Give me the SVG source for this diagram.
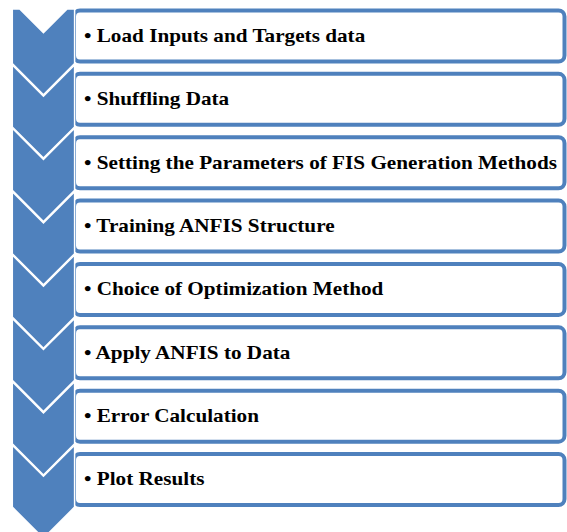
<svg xmlns="http://www.w3.org/2000/svg" width="567" height="532" viewBox="0 0 567 532">
<style>
.box{fill:#ffffff;stroke:#4F81BD;stroke-width:4}
.chev{fill:#4F81BD;stroke:#ffffff;stroke-width:1.5;stroke-linejoin:miter}
.lbl{font-family:"Liberation Serif","Times New Roman",serif;font-weight:bold;font-size:18px;fill:#000000}
</style>
<rect width="567" height="532" fill="#ffffff"/>
<g id="connectors"/>
<g id="node1">
<rect class="box" x="74" y="10.5" width="490.5" height="51" rx="6"/>
<polygon class="chev" points="12.3,9 19.75,9 43.45,32.75 67.15,9 74.6,9 74.6,63.6 43.45,94.75 12.3,63.6"/>
<text class="lbl" transform="translate(84 41.9) scale(1.178 1)">• Load Inputs and Targets data</text>
</g>
<g id="node2">
<rect class="box" x="74" y="73.86" width="490.5" height="51" rx="6"/>
<polygon class="chev" points="12.3,64.96 43.45,96.11 74.6,64.96 74.6,126.96 43.45,158.11 12.3,126.96"/>
<text class="lbl" transform="translate(84 105.26) scale(1.178 1)">• Shuffling Data</text>
</g>
<g id="node3">
<rect class="box" x="74" y="137.22" width="490.5" height="51" rx="6"/>
<polygon class="chev" points="12.3,128.32 43.45,159.47 74.6,128.32 74.6,190.32 43.45,221.47 12.3,190.32"/>
<text class="lbl" transform="translate(84 168.62) scale(1.178 1)">• Setting the Parameters of FIS Generation Methods</text>
</g>
<g id="node4">
<rect class="box" x="74" y="200.58" width="490.5" height="51" rx="6"/>
<polygon class="chev" points="12.3,191.68 43.45,222.83 74.6,191.68 74.6,253.68 43.45,284.83 12.3,253.68"/>
<text class="lbl" transform="translate(84 231.98) scale(1.178 1)">• Training ANFIS Structure</text>
</g>
<g id="node5">
<rect class="box" x="74" y="263.94" width="490.5" height="51" rx="6"/>
<polygon class="chev" points="12.3,255.04 43.45,286.19 74.6,255.04 74.6,317.04 43.45,348.19 12.3,317.04"/>
<text class="lbl" transform="translate(84 295.34) scale(1.178 1)">• Choice of Optimization Method</text>
</g>
<g id="node6">
<rect class="box" x="74" y="327.3" width="490.5" height="51" rx="6"/>
<polygon class="chev" points="12.3,318.4 43.45,349.55 74.6,318.4 74.6,380.4 43.45,411.55 12.3,380.4"/>
<text class="lbl" transform="translate(84 358.7) scale(1.178 1)">• Apply ANFIS to Data</text>
</g>
<g id="node7">
<rect class="box" x="74" y="390.66" width="490.5" height="51" rx="6"/>
<polygon class="chev" points="12.3,381.76 43.45,412.91 74.6,381.76 74.6,443.76 43.45,474.91 12.3,443.76"/>
<text class="lbl" transform="translate(84 422.06) scale(1.178 1)">• Error Calculation</text>
</g>
<g id="node8">
<rect class="box" x="74" y="454.02" width="490.5" height="51" rx="6"/>
<polygon class="chev" points="12.3,445.12 43.45,476.27 74.6,445.12 74.6,507.12 43.45,538.27 12.3,507.12"/>
<text class="lbl" transform="translate(84 485.42) scale(1.178 1)">• Plot Results</text>
</g>
</svg>
